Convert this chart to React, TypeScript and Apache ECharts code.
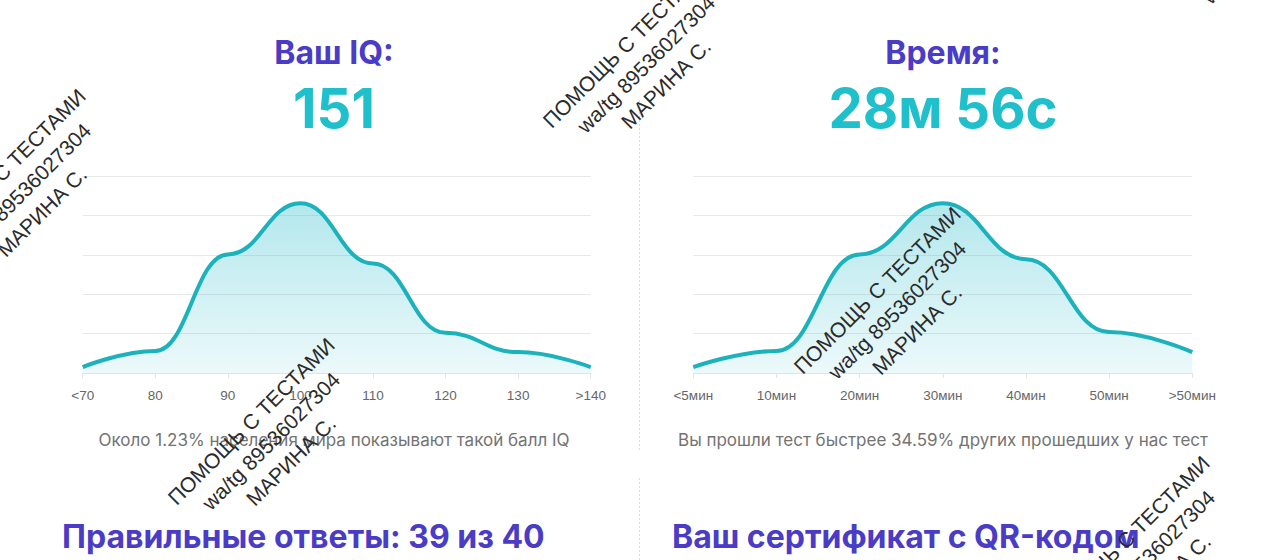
import React, { useEffect, useRef } from "react";
import * as echarts from "echarts";

const iqCategories = ["<70", "80", "90", "100", "110", "120", "130", ">140"];
const iqValues = [1.5, 5.6, 30.1, 43.1, 27.8, 10.2, 5.3, 1.5];
const timeCategories = ["<5мин", "10мин", "20мин", "30мин", "40мин", "50мин", ">50мин"];
const timeValues = [1.5, 5.6, 30.1, 43.1, 28.9, 10.4, 5.3];

const iqTitle = "Ваш IQ:";
const iqScore = "151";
const timeTitle = "Время:";
const timeScore = "28м 56с";
const iqCaption = "Около 1.23% населения мира показывают такой балл IQ";
const timeCaption = "Вы прошли тест быстрее 34.59% других прошедших у нас тест";
const answersTitle = "Правильные ответы: 39 из 40";
const certTitle = "Ваш сертификат с QR-кодом";
const watermarkLines = ["ПОМОЩЬ С ТЕСТАМИ", "wa/tg 89536027304", "МАРИНА С."];
const watermarkCenters = [
  [22, 192],
  [646, 64],
  [271, 441],
  [897, 310],
  [1146, 559],
  [1271, -65],
];

const PURPLE = "#4a3cc6";
const TEAL = "#1fbfcc";
const LINE = "#1cb2bc";
const FONT = "Inter, 'Noto Sans', sans-serif";

export default function App() {
  const ref = useRef<HTMLDivElement>(null);

  useEffect(() => {
    if (!ref.current) return;
    const chart = echarts.init(ref.current, null, { renderer: "svg" });

    const makeArea = () => ({
      color: new echarts.graphic.LinearGradient(0, 0, 0, 1, [
        { offset: 0, color: "rgba(30,185,200,0.48)" },
        { offset: 1, color: "rgba(30,185,200,0.12)" },
      ]),
    });

    const xAxisBase = {
      type: "category",
      boundaryGap: false,
      axisLine: { lineStyle: { color: "#e3e3e3", width: 1 } },
      axisTick: { show: true, lineStyle: { color: "#e3e3e3" }, length: 5 },
      axisLabel: {
        color: "#666",
        fontSize: 13.5,
        fontFamily: "'Liberation Sans', Arial, sans-serif",
        margin: 15,
        interval: 0,
      },
    };
    const yAxisBase = {
      type: "value",
      min: 0,
      max: 50,
      interval: 10,
      axisLabel: { show: false },
      axisLine: { show: false },
      axisTick: { show: false },
      splitLine: { lineStyle: { color: "#e8e8e8", width: 1 } },
    };

    const textEl = (
      text: string,
      x: number,
      y: number,
      font: string,
      fill: string,
      align: string = "center"
    ) => ({
      type: "text",
      x,
      y,
      z: 10,
      style: {
        text,
        font,
        fill,
        textAlign: align,
        textVerticalAlign: "middle",
      },
    });

    const watermarks = watermarkCenters.map(([x, y]) => ({
      type: "text",
      x,
      y,
      rotation: Math.PI / 4,
      z: 100,
      style: {
        text: watermarkLines.join("\n"),
        font: "21px 'Liberation Sans', Arial, sans-serif",
        fill: "#2b2b2b",
        textAlign: "center",
        textVerticalAlign: "middle",
        lineHeight: 28,
      },
    }));

    const lineSeries = (idx: number, data: number[]) => ({
      type: "line",
      xAxisIndex: idx,
      yAxisIndex: idx,
      data,
      smooth: 0.45,
      smoothMonotone: "x",
      symbol: "none",
      lineStyle: { color: LINE, width: 4 },
      areaStyle: makeArea(),
    });

    chart.setOption({
      animation: false,
      backgroundColor: "#ffffff",
      grid: [
        { left: 82.7, top: 176, width: 508, height: 197 },
        { left: 693.3, top: 176, width: 499, height: 197 },
      ],
      xAxis: [
        { ...xAxisBase, gridIndex: 0, data: iqCategories },
        { ...xAxisBase, gridIndex: 1, data: timeCategories },
      ],
      yAxis: [
        { ...yAxisBase, gridIndex: 0 },
        { ...yAxisBase, gridIndex: 1 },
      ],
      series: [lineSeries(0, iqValues), lineSeries(1, timeValues)],
      graphic: [
        textEl(iqTitle, 334, 52, `bold 32px ${FONT}`, PURPLE),
        textEl(iqScore, 334, 108, `bold 54.5px ${FONT}`, TEAL),
        textEl(timeTitle, 943, 52, `bold 32px ${FONT}`, PURPLE),
        textEl(timeScore, 943, 108, `bold 54.5px ${FONT}`, TEAL),
        textEl(iqCaption, 334, 440, `17px ${FONT}`, "#737373"),
        textEl(timeCaption, 943, 440, `17px ${FONT}`, "#737373"),
        textEl(answersTitle, 62, 536, `bold 32px ${FONT}`, PURPLE, "left"),
        textEl(certTitle, 672, 536, `bold 32px ${FONT}`, PURPLE, "left"),
        {
          type: "line",
          z: 1,
          shape: { x1: 639.5, y1: 100, x2: 639.5, y2: 452 },
          style: { stroke: "#dcdcdc", lineWidth: 1, lineDash: [2, 2] },
        },
        {
          type: "line",
          z: 1,
          shape: { x1: 639.5, y1: 478, x2: 639.5, y2: 560 },
          style: { stroke: "#dcdcdc", lineWidth: 1, lineDash: [2, 2] },
        },
        ...watermarks,
      ],
    });

    return () => chart.dispose();
  }, []);

  return (
    <div
      ref={ref}
      style={{ position: "fixed", left: 0, top: 0, width: 1280, height: 560 }}
    />
  );
}
